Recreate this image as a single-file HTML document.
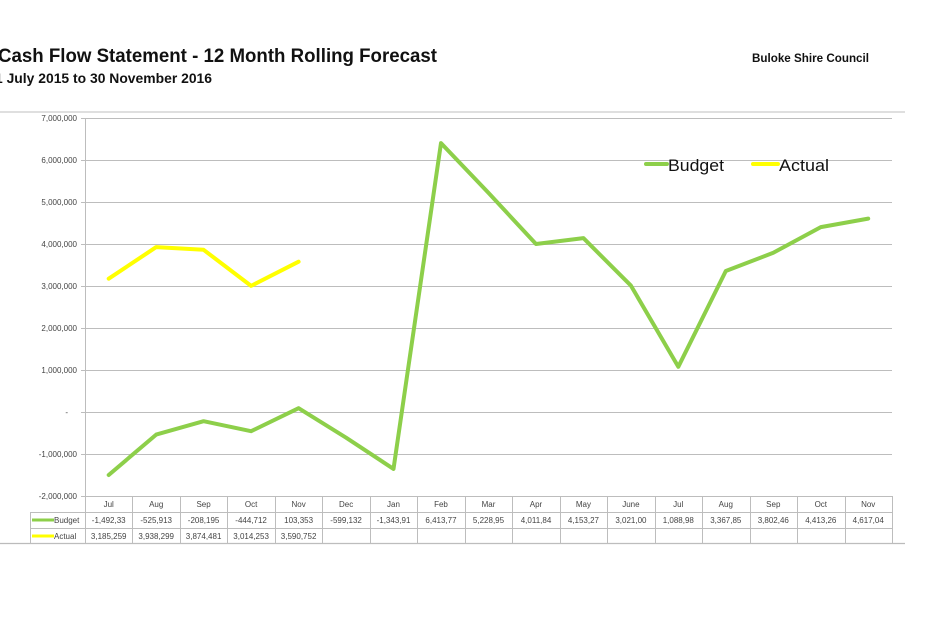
<!DOCTYPE html>
<html><head><meta charset="utf-8"><style>
html,body{margin:0;padding:0;background:#fff;width:930px;height:641px;overflow:hidden}
svg{display:block;font-family:"Liberation Sans",sans-serif}
</style></head><body>
<svg width="930" height="641" viewBox="0 0 930 641">
<text x="-2" y="62" font-size="19" font-weight="bold" fill="#111" textLength="439" lengthAdjust="spacingAndGlyphs">Cash Flow Statement - 12 Month Rolling Forecast</text>
<text x="-5" y="83" font-size="13.5" font-weight="bold" fill="#111" textLength="217" lengthAdjust="spacingAndGlyphs">1 July 2015 to 30 November 2016</text>
<text x="752" y="62" font-size="11.5" font-weight="bold" fill="#111" textLength="117" lengthAdjust="spacingAndGlyphs">Buloke Shire Council</text>
<line x1="0" y1="112" x2="905" y2="112" stroke="#ccc" stroke-width="1.2"/>
<line x1="0" y1="543.5" x2="905" y2="543.5" stroke="#bbb" stroke-width="1.2"/>
<g stroke="#bdbdbd" stroke-width="1">
<line x1="81" y1="118.5" x2="892" y2="118.5"/>
<line x1="81" y1="160.5" x2="892" y2="160.5"/>
<line x1="81" y1="202.5" x2="892" y2="202.5"/>
<line x1="81" y1="244.5" x2="892" y2="244.5"/>
<line x1="81" y1="286.5" x2="892" y2="286.5"/>
<line x1="81" y1="328.5" x2="892" y2="328.5"/>
<line x1="81" y1="370.5" x2="892" y2="370.5"/>
<line x1="81" y1="412.5" x2="892" y2="412.5"/>
<line x1="81" y1="454.5" x2="892" y2="454.5"/>
<line x1="81" y1="496.5" x2="892" y2="496.5"/>
<line x1="85.5" y1="118" x2="85.5" y2="544"/>
<line x1="30.5" y1="512" x2="30.5" y2="544"/>
<line x1="30" y1="512.5" x2="892" y2="512.5"/>
<line x1="30" y1="528.5" x2="892" y2="528.5"/>
<line x1="30" y1="543.5" x2="892" y2="543.5"/>
<line x1="132.5" y1="496" x2="132.5" y2="544"/><line x1="180.5" y1="496" x2="180.5" y2="544"/>
<line x1="227.5" y1="496" x2="227.5" y2="544"/><line x1="275.5" y1="496" x2="275.5" y2="544"/>
<line x1="322.5" y1="496" x2="322.5" y2="544"/><line x1="370.5" y1="496" x2="370.5" y2="544"/>
<line x1="417.5" y1="496" x2="417.5" y2="544"/><line x1="465.5" y1="496" x2="465.5" y2="544"/>
<line x1="512.5" y1="496" x2="512.5" y2="544"/><line x1="560.5" y1="496" x2="560.5" y2="544"/>
<line x1="607.5" y1="496" x2="607.5" y2="544"/><line x1="655.5" y1="496" x2="655.5" y2="544"/>
<line x1="702.5" y1="496" x2="702.5" y2="544"/><line x1="750.5" y1="496" x2="750.5" y2="544"/>
<line x1="797.5" y1="496" x2="797.5" y2="544"/><line x1="845.5" y1="496" x2="845.5" y2="544"/>
<line x1="892.5" y1="496" x2="892.5" y2="544"/>
</g>
<g font-size="8" fill="#444" text-anchor="end">
<text x="77" y="121">7,000,000</text><text x="77" y="163">6,000,000</text>
<text x="77" y="205">5,000,000</text><text x="77" y="247">4,000,000</text>
<text x="77" y="289">3,000,000</text><text x="77" y="331">2,000,000</text>
<text x="77" y="373">1,000,000</text><text x="68" y="415">-</text>
<text x="77" y="457">-1,000,000</text><text x="77" y="499">-2,000,000</text>
</g>
<g font-size="8" fill="#444" text-anchor="middle">
<text x="108.7" y="507">Jul</text><text x="156.2" y="507">Aug</text><text x="203.6" y="507">Sep</text>
<text x="251.1" y="507">Oct</text><text x="298.6" y="507">Nov</text><text x="346.1" y="507">Dec</text>
<text x="393.5" y="507">Jan</text><text x="441" y="507">Feb</text><text x="488.5" y="507">Mar</text>
<text x="536" y="507">Apr</text><text x="583.4" y="507">May</text><text x="630.9" y="507">June</text>
<text x="678.3" y="507">Jul</text><text x="725.8" y="507">Aug</text><text x="773.3" y="507">Sep</text>
<text x="820.8" y="507">Oct</text><text x="868.2" y="507">Nov</text>
<text x="108.7" y="523">-1,492,33</text><text x="156.2" y="523">-525,913</text><text x="203.6" y="523">-208,195</text>
<text x="251.1" y="523">-444,712</text><text x="298.6" y="523">103,353</text><text x="346.1" y="523">-599,132</text>
<text x="393.5" y="523">-1,343,91</text><text x="441" y="523">6,413,77</text><text x="488.5" y="523">5,228,95</text>
<text x="536" y="523">4,011,84</text><text x="583.4" y="523">4,153,27</text><text x="630.9" y="523">3,021,00</text>
<text x="678.3" y="523">1,088,98</text><text x="725.8" y="523">3,367,85</text><text x="773.3" y="523">3,802,46</text>
<text x="820.8" y="523">4,413,26</text><text x="868.2" y="523">4,617,04</text>
<text x="108.7" y="539">3,185,259</text><text x="156.2" y="539">3,938,299</text><text x="203.6" y="539">3,874,481</text>
<text x="251.1" y="539">3,014,253</text><text x="298.6" y="539">3,590,752</text>
</g>
<line x1="32" y1="520" x2="54" y2="520" stroke="#8dcf4a" stroke-width="3"/>
<text x="54" y="523" font-size="8" fill="#444">Budget</text>
<line x1="32" y1="536" x2="54" y2="536" stroke="#ffff00" stroke-width="3"/>
<text x="54" y="539" font-size="8" fill="#444">Actual</text>
<polyline fill="none" stroke="#8dcf4a" stroke-width="4" stroke-linejoin="round" stroke-linecap="round"
points="108.7,475 156.2,434.6 203.6,421.2 251.1,431.2 298.6,408.2 346.1,437.7 393.5,468.9 441,143.1 488.5,192.9 536,244 583.4,238.1 630.9,285.6 678.3,366.8 725.8,271 773.3,252.8 820.8,227.1 868.2,218.6"/>
<polyline fill="none" stroke="#ffff00" stroke-width="4" stroke-linejoin="round" stroke-linecap="round"
points="108.7,278.7 156.2,247.1 203.6,249.8 251.1,285.9 298.6,261.7"/>
<line x1="646" y1="164" x2="667" y2="164" stroke="#8dcf4a" stroke-width="4" stroke-linecap="round"/>
<text x="668" y="171" font-size="17" fill="#111" textLength="56" lengthAdjust="spacingAndGlyphs">Budget</text>
<line x1="753" y1="164" x2="778" y2="164" stroke="#ffff00" stroke-width="4" stroke-linecap="round"/>
<text x="779" y="171" font-size="17" fill="#111" textLength="50" lengthAdjust="spacingAndGlyphs">Actual</text>
</svg>
</body></html>
